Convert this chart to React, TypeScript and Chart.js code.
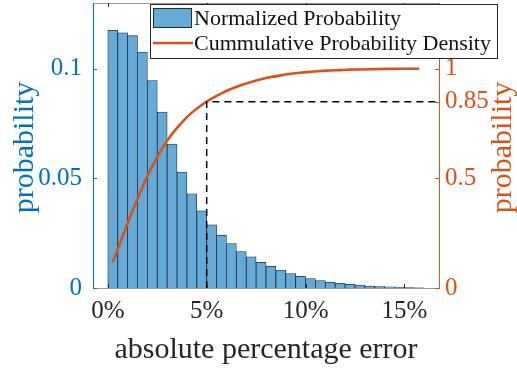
import React, { useEffect, useRef } from 'react';
import { Chart, registerables } from 'chart.js';

Chart.register(...registerables);

// bin centres (percent) of the 0.5 % wide histogram bins
const binCenters = [
  0.25, 0.75, 1.25, 1.75, 2.25, 2.75, 3.25, 3.75, 4.25, 4.75,
  5.25, 5.75, 6.25, 6.75, 7.25, 7.75, 8.25, 8.75, 9.25, 9.75,
  10.25, 10.75, 11.25, 11.75, 12.25, 12.75, 13.25, 13.75, 14.25, 14.75,
  15.25, 15.75,
];
const normalizedProbability = [
  0.1175, 0.1164, 0.1151, 0.1076, 0.0946, 0.0803, 0.0657, 0.0529, 0.043, 0.0352,
  0.0288, 0.0241, 0.0203, 0.0166, 0.0142, 0.0117, 0.0099, 0.0082, 0.0066, 0.0053,
  0.0043, 0.0034, 0.0026, 0.0021, 0.0017, 0.0013, 0.0009, 0.0007, 0.0005, 0.0004,
  0.0002, 0.0001,
];
const cumulativeProbability = [
  0.117, 0.236, 0.352, 0.46, 0.556, 0.637, 0.703, 0.756, 0.8, 0.835,
  0.864, 0.888, 0.909, 0.926, 0.94, 0.952, 0.962, 0.97, 0.977, 0.982,
  0.986, 0.99, 0.992, 0.994, 0.996, 0.997, 0.998, 0.999, 0.9995, 0.9998,
  1.0, 1.0,
];
const markerX = [5, 5, 16.75];
const markerY = [0, 0.85, 0.85];
const xTicks = [0, 5, 10, 15];
const leftTicks = [0, 0.05, 0.1];
const rightTicks = [0, 0.5, 0.85, 1];
const xLabel = 'absolute percentage error';
const yLabel = 'probability';
const legendLabels = ['Normalized Probability', 'Cummulative Probability Density'];

const FONT = "'Liberation Serif', 'Times New Roman', serif";
const BLUE = '#0072BD';
const ORANGE = '#D95319';
const BAR = '#66AAD7';
const BAR_EDGE = '#1c2f40';
const DARK = '#262626';

const noPad = (s: any) => {
  s.paddingTop = 0;
  s.paddingBottom = 0;
  s.paddingLeft = 0;
  s.paddingRight = 0;
};

const decorPlugin = {
  id: 'decor',
  afterDraw(chart: any) {
    const { ctx, chartArea: a, scales } = chart;
    const x = scales.x, y = scales.y, y2 = scales.y2;
    ctx.save();
    // box lines
    ctx.lineWidth = 1.2;
    ctx.strokeStyle = '#9a9a9a';
    ctx.beginPath();
    ctx.moveTo(a.left, a.bottom + 0.5); ctx.lineTo(a.right, a.bottom + 0.5);
    ctx.moveTo(a.left, a.top + 0.5); ctx.lineTo(a.right, a.top + 0.5);
    ctx.stroke();
    ctx.lineWidth = 1;
    ctx.strokeStyle = BLUE;
    ctx.beginPath(); ctx.moveTo(a.left + 0.5, a.top); ctx.lineTo(a.left + 0.5, a.bottom + 1); ctx.stroke();
    ctx.strokeStyle = ORANGE;
    ctx.beginPath(); ctx.moveTo(a.right + 0.5, a.top); ctx.lineTo(a.right + 0.5, a.bottom + 1); ctx.stroke();
    // inward ticks
    ctx.strokeStyle = DARK;
    ctx.beginPath();
    xTicks.forEach((v) => {
      const px = Math.round(x.getPixelForValue(v)) + 0.5;
      ctx.moveTo(px, a.bottom); ctx.lineTo(px, a.bottom - 4);
      ctx.moveTo(px, a.top); ctx.lineTo(px, a.top + 4);
    });
    ctx.stroke();
    ctx.strokeStyle = BLUE;
    ctx.beginPath();
    leftTicks.forEach((v) => {
      const py = Math.round(y.getPixelForValue(v)) + 0.5;
      ctx.moveTo(a.left, py); ctx.lineTo(a.left + 4, py);
    });
    ctx.stroke();
    ctx.strokeStyle = ORANGE;
    ctx.beginPath();
    rightTicks.forEach((v) => {
      const py = Math.round(y2.getPixelForValue(v)) + 0.5;
      ctx.moveTo(a.right, py); ctx.lineTo(a.right - 4, py);
    });
    ctx.stroke();

    // axis titles
    ctx.font = `30px ${FONT}`;
    ctx.textAlign = 'center';
    ctx.textBaseline = 'alphabetic';
    ctx.fillStyle = DARK;
    ctx.fillText(xLabel, (a.left + a.right) / 2, 358);
    ctx.save();
    ctx.translate(33, (a.top + a.bottom) / 2 + 2);
    ctx.rotate(-Math.PI / 2);
    ctx.fillStyle = BLUE;
    ctx.fillText(yLabel, 0, 0);
    ctx.restore();
    ctx.save();
    ctx.translate(511, (a.top + a.bottom) / 2 + 2);
    ctx.rotate(-Math.PI / 2);
    ctx.fillStyle = ORANGE;
    ctx.fillText(yLabel, 0, 0);
    ctx.restore();

    // legend
    ctx.fillStyle = '#ffffff';
    ctx.fillRect(150.5, 4.5, 347, 54);
    ctx.strokeStyle = DARK;
    ctx.lineWidth = 1;
    ctx.strokeRect(150.5, 4.5, 347, 54);
    ctx.fillStyle = BAR;
    ctx.fillRect(153.5, 8.5, 38, 19);
    ctx.strokeStyle = BAR_EDGE;
    ctx.strokeRect(153.5, 8.5, 38, 19);
    ctx.strokeStyle = ORANGE;
    ctx.lineWidth = 2.5;
    ctx.beginPath(); ctx.moveTo(153, 43); ctx.lineTo(193, 43); ctx.stroke();
    ctx.font = `22px ${FONT}`;
    ctx.textAlign = 'left';
    ctx.fillStyle = '#111111';
    ctx.fillText(legendLabels[0], 194, 25);
    ctx.fillText(legendLabels[1], 194, 50);
    ctx.restore();
  },
};

export default function App() {
  const ref = useRef<HTMLCanvasElement | null>(null);
  useEffect(() => {
    if (!ref.current) return;
    const chart = new Chart(ref.current, {
      type: 'bar',
      data: {
        datasets: [
          {
            type: 'line',
            label: 'marker',
            data: markerX.map((v, i) => ({ x: v, y: markerY[i] })),
            yAxisID: 'y2',
            borderColor: '#000000',
            borderWidth: 1.5,
            borderDash: [7, 5],
            pointRadius: 0,
            tension: 0,
            order: 1,
          } as any,
          {
            type: 'line',
            label: legendLabels[1],
            data: binCenters.map((v, i) => ({ x: v, y: cumulativeProbability[i] })),
            yAxisID: 'y2',
            borderColor: ORANGE,
            borderWidth: 2.6,
            pointRadius: 0,
            cubicInterpolationMode: 'monotone',
            order: 2,
          } as any,
          {
            type: 'bar',
            label: legendLabels[0],
            data: binCenters.map((v, i) => ({ x: v, y: normalizedProbability[i] })),
            yAxisID: 'y',
            backgroundColor: BAR,
            borderColor: BAR_EDGE,
            borderWidth: 0.8,
            borderSkipped: 'start',
            barPercentage: 1,
            categoryPercentage: 1,
            order: 3,
          } as any,
        ],
      },
      options: {
        responsive: false,
        animation: false,
        devicePixelRatio: 1,
        layout: { padding: { top: 3, left: 0, right: 0, bottom: 0 } },
        plugins: { legend: { display: false }, tooltip: { enabled: false } },
        scales: {
          x: {
            type: 'linear',
            min: -0.75,
            max: 16.75,
            offset: false,
            afterBuildTicks: (s: any) => { s.ticks = xTicks.map((v) => ({ value: v })); },
            afterFit: (s: any) => { s.height = 80; noPad(s); },
            grid: { display: false, drawTicks: false, offset: false },
            border: { display: false },
            ticks: {
              autoSkip: false,
              maxRotation: 0,
              padding: 8,
              color: DARK,
              font: { family: FONT, size: 25 },
              callback: (v: any) => `${v}%`,
            },
          },
          y: {
            type: 'linear',
            position: 'left',
            min: 0,
            max: 0.13,
            afterBuildTicks: (s: any) => { s.ticks = leftTicks.map((v) => ({ value: v })); },
            afterFit: (s: any) => { s.width = 93; noPad(s); },
            grid: { display: false, drawTicks: false },
            border: { display: false },
            ticks: {
              padding: 11,
              color: BLUE,
              font: { family: FONT, size: 25 },
              callback: (v: any) => String(v),
            },
          },
          y2: {
            type: 'linear',
            position: 'right',
            min: 0,
            max: 1.3,
            afterBuildTicks: (s: any) => { s.ticks = rightTicks.map((v) => ({ value: v })); },
            afterFit: (s: any) => { s.width = 78; noPad(s); },
            grid: { display: false, drawTicks: false },
            border: { display: false },
            ticks: {
              padding: 6,
              color: ORANGE,
              font: { family: FONT, size: 25 },
              callback: (v: any) => String(v),
            },
          },
        },
      } as any,
      plugins: [decorPlugin],
    });
    return () => chart.destroy();
  }, []);
  return (
    <div style={{ position: 'absolute', left: 0, top: 0, width: 517, height: 368 }}>
      <canvas ref={ref} width={517} height={368} style={{ display: 'block' }} />
    </div>
  );
}
